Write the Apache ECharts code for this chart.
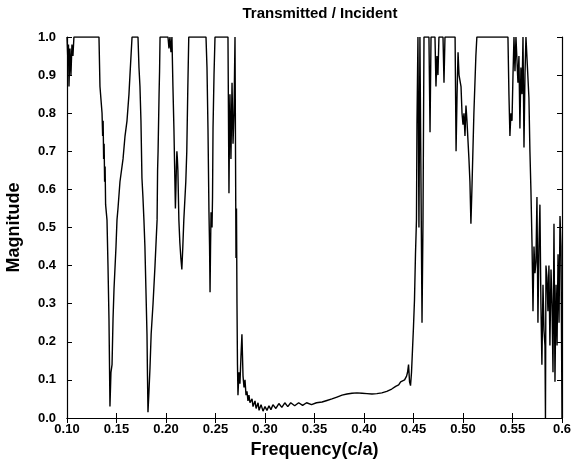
<!DOCTYPE html>
<html>
<head>
<meta charset="utf-8">
<title>Transmitted / Incident</title>
<script src="https://cdn.jsdelivr.net/npm/echarts@6/dist/echarts.min.js"></script>
<style>
  html, body { margin: 0; padding: 0; background: #fff; }
  #container { width: 574px; height: 461px; }
</style>
</head>
<body>
<div id="container"></div>
<script>
// frequency (c/a) samples
var freq = [
  0.1000, 0.1010, 0.1015, 0.1020, 0.1030, 0.1040, 0.1050, 0.1060, 0.1070,
  0.1323, 0.1333, 0.1354, 0.1360, 0.1365, 0.1370, 0.1375, 0.1380, 0.1385, 0.1390, 0.1404,
  0.1414, 0.1424, 0.1434, 0.1444, 0.1455, 0.1465, 0.1475, 0.1495, 0.1505, 0.1515,
  0.1535, 0.1566, 0.1586, 0.1606, 0.1626, 0.1636, 0.1657,
  0.1717, 0.1727, 0.1737, 0.1747, 0.1757, 0.1767, 0.1777, 0.1787, 0.1797, 0.1808,
  0.1813, 0.1818, 0.1828, 0.1838, 0.1850, 0.1869, 0.1889, 0.1910, 0.1915, 0.1920,
  0.1930, 0.1935, 0.1940,
  0.2020, 0.2030, 0.2040, 0.2050, 0.2060, 0.2070, 0.2080, 0.2090, 0.2095, 0.2100,
  0.2105, 0.2110, 0.2115, 0.2120, 0.2130, 0.2140, 0.2150, 0.2160, 0.2170, 0.2180,
  0.2200, 0.2210, 0.2220, 0.2230,
  0.2404, 0.2414, 0.2424, 0.2434, 0.2440, 0.2445, 0.2450, 0.2455, 0.2465, 0.2470,
  0.2475, 0.2485, 0.2495,
  0.2626, 0.2636, 0.2641, 0.2646, 0.2656, 0.2667, 0.2677, 0.2687, 0.2697, 0.2707,
  0.2712, 0.2717, 0.2722, 0.2727, 0.2737, 0.2747, 0.2757, 0.2767, 0.2778, 0.2788,
  0.2798, 0.2808, 0.2818, 0.2828, 0.2838, 0.2848, 0.2869, 0.2879, 0.2899, 0.2910,
  0.2930, 0.2940, 0.2960, 0.2980, 0.3000, 0.3020, 0.3040, 0.3060, 0.3080, 0.3110,
  0.3140, 0.3170, 0.3200, 0.3230, 0.3260, 0.3300, 0.3340, 0.3380, 0.3420, 0.3470,
  0.3520, 0.3576, 0.3626, 0.3676, 0.3727, 0.3778, 0.3828, 0.3879, 0.3929, 0.3980,
  0.4030, 0.4080, 0.4130, 0.4180, 0.4230, 0.4280, 0.4320, 0.4350, 0.4370, 0.4390,
  0.4410, 0.4420, 0.4430, 0.4440, 0.4450, 0.4460, 0.4470, 0.4480, 0.4490, 0.4500,
  0.4510, 0.4520, 0.4530, 0.4535, 0.4545, 0.4555, 0.4565, 0.4575, 0.4586, 0.4596,
  0.4606, 0.4656, 0.4667, 0.4677, 0.4717, 0.4727, 0.4737, 0.4747, 0.4757, 0.4798,
  0.4808, 0.4818, 0.4920, 0.4930, 0.4940, 0.4950, 0.4960, 0.4980, 0.4990, 0.5000,
  0.5010, 0.5020, 0.5030, 0.5040, 0.5050, 0.5060, 0.5070, 0.5080, 0.5090, 0.5110,
  0.5130, 0.5140,
  0.5454, 0.5464, 0.5474, 0.5484, 0.5495, 0.5505, 0.5515, 0.5525, 0.5535, 0.5555,
  0.5565, 0.5575, 0.5585, 0.5596, 0.5606, 0.5616, 0.5626, 0.5636, 0.5656, 0.5666,
  0.5676, 0.5686, 0.5697, 0.5707, 0.5717, 0.5727, 0.5737, 0.5747, 0.5757, 0.5767,
  0.5777, 0.5787, 0.5797, 0.5808, 0.5818, 0.5828, 0.5833, 0.5838, 0.5848, 0.5858,
  0.5868, 0.5878, 0.5889, 0.5899, 0.5909, 0.5919, 0.5929, 0.5940, 0.5950, 0.5960,
  0.5970, 0.5980, 0.5990, 0.6000
];

// transmitted / incident magnitude at each sample
var mag = [
  1.00, 0.93, 0.98, 0.87, 0.97, 0.90, 0.98, 0.95, 1.00,
  1.00, 0.87, 0.80, 0.74, 0.78, 0.68, 0.72, 0.62, 0.66, 0.56, 0.52,
  0.40, 0.26, 0.03, 0.12, 0.14, 0.26, 0.34, 0.45, 0.52, 0.55,
  0.62, 0.68, 0.74, 0.78, 0.85, 0.90, 1.00,
  1.00, 0.92, 0.87, 0.78, 0.63, 0.58, 0.52, 0.45, 0.34, 0.22,
  0.11, 0.015, 0.07, 0.13, 0.22, 0.30, 0.40, 0.52, 0.65, 0.70,
  0.85, 0.91, 1.00,
  1.00, 0.97, 1.00, 0.96, 1.00, 0.87, 0.76, 0.62, 0.55, 0.60,
  0.66, 0.70, 0.68, 0.65, 0.52, 0.46, 0.42, 0.39, 0.45, 0.52,
  0.62, 0.70, 0.86, 1.00,
  1.00, 0.92, 0.76, 0.54, 0.45, 0.33, 0.45, 0.54, 0.50, 0.58,
  0.76, 0.90, 1.00,
  1.00, 0.59, 0.75, 0.85, 0.68, 0.88, 0.72, 0.80, 1.00, 0.42,
  0.55, 0.30, 0.14, 0.06, 0.12, 0.09, 0.16, 0.22, 0.11, 0.08,
  0.10, 0.06, 0.07, 0.045, 0.06, 0.04, 0.05, 0.03, 0.045, 0.025,
  0.04, 0.02, 0.035, 0.018, 0.03, 0.02, 0.032, 0.022, 0.035, 0.025,
  0.038, 0.028, 0.040, 0.030, 0.040, 0.032, 0.040, 0.033, 0.040, 0.035,
  0.040, 0.042, 0.046, 0.050, 0.055, 0.060, 0.063, 0.065, 0.066, 0.065,
  0.064, 0.063, 0.064, 0.066, 0.070, 0.076, 0.083, 0.087, 0.095, 0.090,
  0.100, 0.095, 0.110, 0.120, 0.140, 0.095, 0.085, 0.120, 0.180, 0.240,
  0.310, 0.430, 0.520, 0.770, 1.00, 0.50, 1.00, 1.00, 0.25, 0.52,
  1.00, 1.00, 0.75, 1.00, 1.00, 0.87, 0.95, 0.90, 1.00, 1.00,
  0.88, 1.00, 1.00, 0.70, 0.85, 0.96, 0.90, 0.87, 0.80, 0.77,
  0.80, 0.74, 0.82, 0.78, 0.73, 0.68, 0.62, 0.51, 0.60, 0.80,
  0.95, 1.00,
  1.00, 0.85, 0.74, 0.80, 0.78, 0.90, 1.00, 0.91, 1.00, 0.88,
  0.95, 0.76, 0.92, 0.85, 1.00, 0.71, 0.90, 1.00, 1.00, 0.84,
  0.70, 0.60, 0.46, 0.28, 0.45, 0.38, 0.41, 0.58, 0.25, 0.45,
  0.56, 0.30, 0.14, 0.35, 0.23, 0.19, 0.00, 0.40, 0.37, 0.28,
  0.40, 0.19, 0.39, 0.30, 0.12, 0.51, 0.095, 0.35, 0.19, 0.43,
  0.25, 0.53, 0.45, 0.00
];

var xTicks = { min: 0.1, max: 0.6, step: 0.05 };
var yTicks = { min: 0, max: 1, step: 0.1 };

var points = freq.map(function (f, i) { return [f, mag[i]]; });

var fam = 'Liberation Sans, Arial, sans-serif';
var labelFont = { fontFamily: fam, fontWeight: 'bold', fontSize: 13, color: '#000' };
var nameFont = { fontFamily: fam, fontWeight: 'bold', fontSize: 18, color: '#000' };

var myChart = echarts.init(document.getElementById('container'));

var option = {
  animation: false,
  backgroundColor: '#fff',
  title: {
    text: 'Transmitted / Incident',
    left: 315,
    textAlign: 'center',
    top: 1,
    textStyle: { fontFamily: fam, fontWeight: 'bold', fontSize: 15, color: '#000' }
  },
  grid: { left: 67, right: 12, top: 37, bottom: 43, outerBoundsMode: 'none', containLabel: false },
  xAxis: [
    {
      type: 'value',
      min: xTicks.min, max: xTicks.max, interval: xTicks.step,
      name: 'Frequency(c/a)',
      nameLocation: 'middle',
      nameGap: 20,
      nameTextStyle: nameFont,
      axisLine: { lineStyle: { color: '#000', width: 1.2 } },
      axisTick: { inside: true, length: 5, lineStyle: { color: '#000' } },
      axisLabel: Object.assign({
        margin: 5,
        formatter: function (v) { return Math.abs(v - 0.6) < 1e-9 ? '0.6' : v.toFixed(2); }
      }, labelFont),
      splitLine: { show: false }
    },
    {
      type: 'value', position: 'top',
      min: xTicks.min, max: xTicks.max, interval: xTicks.step,
      axisLine: { lineStyle: { color: '#000', width: 1.2 } },
      axisTick: { inside: true, length: 5, lineStyle: { color: '#000' } },
      axisLabel: { show: false },
      splitLine: { show: false }
    }
  ],
  yAxis: [
    {
      type: 'value',
      min: yTicks.min, max: yTicks.max, interval: yTicks.step,
      name: 'Magnitude',
      nameLocation: 'middle',
      nameGap: 44,
      nameTextStyle: nameFont,
      axisLine: { show: true, lineStyle: { color: '#000', width: 1.2 } },
      axisTick: { show: true, inside: true, length: 5, lineStyle: { color: '#000' } },
      axisLabel: Object.assign({
        margin: 11,
        formatter: function (v) { return v.toFixed(1); }
      }, labelFont),
      splitLine: { show: false }
    },
    {
      type: 'value', position: 'right',
      min: yTicks.min, max: yTicks.max, interval: yTicks.step,
      axisLine: { show: true, lineStyle: { color: '#000', width: 1.2 } },
      axisTick: { show: true, inside: true, length: 5, lineStyle: { color: '#000' } },
      axisLabel: { show: false },
      splitLine: { show: false }
    }
  ],
  series: [
    {
      type: 'line',
      data: points,
      showSymbol: false,
      clip: true,
      lineStyle: { color: '#000', width: 1.4 },
      xAxisIndex: 0,
      yAxisIndex: 0
    }
  ]
};

myChart.setOption(option);
</script>
</body>
</html>
